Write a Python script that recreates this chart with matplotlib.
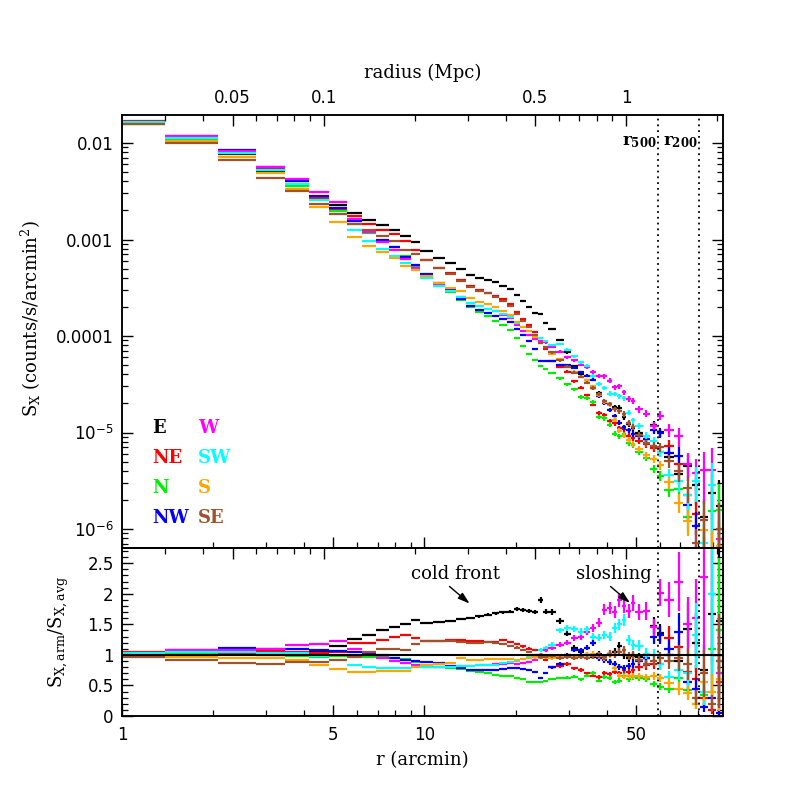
import numpy as np
import matplotlib
matplotlib.use('Agg')
import matplotlib.pyplot as plt
from matplotlib.ticker import NullFormatter

# radial bin edges (arcmin)
EDGES = [0.693, 1.386, 2.079, 2.772, 3.465, 4.158, 4.851, 5.544, 6.237, 6.930,
         7.623, 8.316, 9.009, 9.702,
         10.7, 11.7, 12.7, 13.7, 14.7, 15.7, 16.7, 17.7, 18.7, 19.7, 20.7, 21.7,
         22.7, 23.7, 24.7, 25.7,
         27.3, 28.9, 30.5, 32.1, 33.7, 35.3, 36.9, 38.5, 40.1, 41.7, 43.3, 44.9,
         46.5, 48.1, 49.7,
         52.7, 55.7, 58.7, 61.7,
         66.7, 71.7, 76.7, 81.7, 86.7, 91.7, 96.7]

# log10 of the azimuthally averaged surface brightness
LOG_SAVG = [-1.79, -1.96, -2.12, -2.29, -2.44, -2.58, -2.70, -2.83, -2.92, -3.00, -3.06, -3.14, -3.22,
            -3.30, -3.38, -3.44, -3.51, -3.57, -3.61, -3.64, -3.67, -3.71, -3.75, -3.82, -3.88,
            -3.93, -3.99, -4.05, -4.10,
            -4.16, -4.23, -4.30, -4.36, -4.41, -4.46, -4.53, -4.60, -4.66, -4.71, -4.76, -4.80,
            -4.84, -4.89, -4.94,
            -4.99, -5.04, -5.09, -5.13,
            -5.25, -5.38, -5.50, -5.62, -5.75, -5.85, -5.95]

# fractional errors per bin
ERR_FRAC = [0.002, 0.002, 0.002, 0.003, 0.003, 0.003, 0.003, 0.004, 0.004, 0.004, 0.005, 0.005, 0.005,
            0.006, 0.007, 0.008, 0.009, 0.010, 0.011, 0.012, 0.013, 0.014, 0.015, 0.016, 0.018,
            0.020, 0.022, 0.024, 0.026,
            0.030, 0.032, 0.034, 0.036, 0.038, 0.040, 0.043, 0.046, 0.050, 0.053, 0.056, 0.060,
            0.063, 0.066, 0.070,
            0.075, 0.085, 0.095, 0.11,
            0.15, 0.22, 0.30, 0.40, 0.55, 0.70, 0.85]

# S_X,arm / S_X,avg for each arm
RATIO_E = [1.02, 1.00, 1.01, 1.00, 1.00, 1.04, 1.14, 1.26, 1.33, 1.41, 1.45, 1.51, 1.57,
           1.53, 1.54, 1.56, 1.59, 1.61, 1.63, 1.66, 1.68, 1.70, 1.71, 1.75, 1.74, 1.72, 1.70, 1.90, 1.71,
           1.70, 1.55, 1.35, 1.12, 1.05, 1.00, 0.97, 1.02, 0.95, 1.02, 1.05, 1.14, 1.00, 0.95, 0.98,
           0.96, 0.95, 1.48, 1.36,
           1.00, 0.90, 1.43, 1.20, 0.75, 1.67, 1.55]
RATIO_NE = [1.05, 1.02, 1.03, 1.06, 1.04, 1.03, 1.05, 1.19, 1.20, 1.25, 1.30, 1.33, 1.28,
            1.23, 1.23, 1.24, 1.24, 1.22, 1.22, 1.21, 1.21, 1.25, 1.21, 1.18, 1.14, 1.10, 1.08, 1.00, 0.92,
            0.80, 0.82, 0.85, 0.78, 0.75, 0.70, 0.66, 0.64, 0.70, 0.68, 0.72, 0.70, 0.75, 0.72, 0.76,
            0.80, 0.83, 0.85, 0.85,
            1.28, 1.13, 0.72, 0.60, 0.30, 0.10, 0.55]
RATIO_N = [0.98, 1.01, 1.04, 1.02, 0.99, 0.97, 0.98, 0.98, 0.97, 0.96, 0.95, 0.94, 0.88,
           0.81, 0.80, 0.78, 0.77, 0.74, 0.72, 0.70, 0.67, 0.66, 0.65, 0.63, 0.60, 0.56, 0.55, 0.55, 0.57,
           0.60, 0.62, 0.63, 0.64, 0.60, 0.66, 0.70, 0.58, 0.64, 0.62, 0.56, 0.58, 0.66, 0.60, 0.64,
           0.62, 0.60, 0.52, 0.48,
           0.45, 0.62, 0.42, 0.20, 0.35, 1.10, 1.40]
RATIO_NW = [1.02, 1.08, 1.11, 1.10, 1.10, 1.08, 1.06, 1.05, 1.02, 1.00, 0.95, 0.92, 0.90,
            0.88, 0.86, 0.82, 0.78, 0.76, 0.75, 0.75, 0.76, 0.77, 0.78, 0.78, 0.77, 0.75, 0.72, 0.62, 0.70,
            0.80, 0.85, 1.00, 1.08, 1.08, 1.12, 1.20, 0.95, 0.92, 0.88, 0.85, 0.80, 0.78, 0.82, 0.85,
            0.90, 0.95, 1.30, 1.33,
            1.10, 1.38, 0.56, 0.45, 0.15, 0.30, 0.05]
RATIO_W = [1.02, 1.08, 1.08, 1.10, 1.16, 1.18, 1.22, 1.10, 1.00, 0.95, 0.90, 0.87, 0.84,
           0.82, 0.81, 0.81, 0.82, 0.82, 0.83, 0.84, 0.85, 0.85, 0.86, 0.85, 0.86, 0.88, 0.92, 1.00, 1.08,
           1.12, 1.17, 1.20, 1.28, 1.30, 1.38, 1.44, 1.53, 1.74, 1.77, 1.70, 1.90, 1.80, 1.72, 1.85,
           1.70, 1.72, 1.45, 2.02,
           1.90, 2.20, 1.50, 1.60, 2.28, 2.90, 0.70]
RATIO_SW = [1.03, 1.04, 1.04, 1.03, 1.03, 0.98, 0.92, 0.84, 0.81, 0.79, 0.78, 0.79, 0.80,
            0.80, 0.80, 0.81, 0.82, 0.82, 0.83, 0.84, 0.84, 0.86, 0.88, 0.90, 0.93, 0.96, 1.00, 1.08, 1.12,
            1.17, 1.40, 1.44, 1.42, 1.38, 1.42, 1.30, 1.28, 1.32, 1.30, 1.44, 1.50, 1.57, 1.25, 1.16,
            1.15, 1.02, 1.00, 0.85,
            0.64, 0.75, 0.71, 1.32, 0.40, 2.00, 0.90]
RATIO_S = [0.98, 0.96, 0.95, 0.95, 0.92, 0.83, 0.77, 0.72, 0.72, 0.74, 0.74, 0.74, 0.80,
           0.84, 0.85, 0.86, 0.95, 0.92, 0.92, 0.93, 0.93, 0.94, 0.93, 0.92, 0.94, 0.95, 0.96, 0.95, 0.96,
           0.95, 0.98, 0.96, 0.98, 0.97, 1.00, 1.02, 0.98, 0.95, 1.00, 0.78, 0.66, 0.64, 0.65, 0.66,
           0.66, 0.64, 0.66, 0.62,
           0.54, 0.45, 0.38, 0.20, 0.55, 0.40, 0.60]
RATIO_SE = [0.97, 0.92, 0.87, 0.85, 0.88, 0.88, 0.92, 0.97, 1.05, 1.10, 1.10, 1.08, 1.18,
            1.23, 1.23, 1.22, 1.21, 1.20, 1.20, 1.21, 1.19, 1.18, 1.14, 1.12, 1.08, 1.05, 1.00, 0.96, 0.97,
            0.98, 0.95, 0.96, 0.95, 0.97, 0.95, 0.98, 1.00, 0.97, 1.02, 1.00, 1.05, 1.08, 0.98, 1.00,
            0.92, 0.85, 0.90, 0.95,
            0.90, 0.95, 0.85, 0.30, 0.70, 0.20, 0.90]

ARMS = ['E', 'NE', 'N', 'NW', 'W', 'SW', 'S', 'SE']
RATIOS = [RATIO_E, RATIO_NE, RATIO_N, RATIO_NW, RATIO_W, RATIO_SW, RATIO_S, RATIO_SE]
COLORS = ['black', '#ff0000', '#00ee00', '#0000ff', '#ff00ff', '#00ffff', '#ffa500', '#a0522d']

ARCMIN_PER_MPC = 46.4
R500 = 59.1
R200 = 80.8
XMIN, XMAX = 1.0, 97.0

MPC_MAJOR = [0.05, 0.1, 0.5, 1]
MPC_MINOR = [0.03, 0.04, 0.06, 0.07, 0.08, 0.09, 0.2, 0.3, 0.4, 0.6, 0.7, 0.8, 0.9, 2]
ARC_MAJOR = [1, 5, 10, 50]
ARC_MINOR = [2, 3, 4, 6, 7, 8, 9, 20, 30, 40, 60, 70, 80, 90]

SERIF = 'DejaVu Serif'
plt.rcParams['mathtext.fontset'] = 'dejavuserif'
plt.rcParams['axes.linewidth'] = 1.1


def style_ticks(ax):
    ax.tick_params(which='major', direction='in', length=8, width=1.0, labelsize=12)
    ax.tick_params(which='minor', direction='in', length=4, width=0.9)


def mpc_axis(ax, labels):
    tw = ax.twiny()
    tw.set_xscale('log')
    tw.set_xlim(XMIN / ARCMIN_PER_MPC, XMAX / ARCMIN_PER_MPC)
    tw.set_xticks(MPC_MAJOR)
    tw.set_xticks(MPC_MINOR, minor=True)
    tw.xaxis.set_minor_formatter(NullFormatter())
    if labels:
        tw.set_xticklabels(['0.05', '0.1', '0.5', '1'])
    else:
        tw.set_xticklabels([])
    style_ticks(tw)
    tw.tick_params(axis='x', pad=6)
    return tw


edges = np.array(EDGES)
r = 0.5 * (edges[1:] + edges[:-1])
xerr = [r - edges[:-1], edges[1:] - r]
savg = 10 ** np.array(LOG_SAVG)
efrac = np.array(ERR_FRAC)

fig = plt.figure(figsize=(7.89, 7.89), dpi=100)
ax1 = fig.add_axes([0.1546, 0.3055, 0.7617, 0.5487])
ax2 = fig.add_axes([0.1546, 0.0925, 0.7617, 0.2130])

for name, rat, col in zip(ARMS, RATIOS, COLORS):
    rat = np.array(rat)
    sx = savg * rat
    ax1.errorbar(r, sx, xerr=xerr, yerr=sx * efrac, fmt='none', ecolor=col,
                 elinewidth=1.6, capsize=0)
    ax2.errorbar(r, rat, xerr=xerr, yerr=rat * efrac, fmt='none', ecolor=col,
                 elinewidth=1.6, capsize=0)

### top panel
ax1.set_xscale('log')
ax1.set_yscale('log')
ax1.set_xlim(XMIN, XMAX)
ax1.set_ylim(6.36e-7, 0.0195)
ax1.set_xticks(ARC_MAJOR)
ax1.set_xticks(ARC_MINOR, minor=True)
ax1.xaxis.set_minor_formatter(NullFormatter())
ax1.set_yticks([1e-6, 1e-5, 1e-4, 1e-3, 1e-2])
ax1.set_yticklabels(['10$^{\\mathregular{-6}}$', '10$^{\\mathregular{-5}}$',
                     '0.0001', '0.001', '0.01'])
ax1.yaxis.set_minor_formatter(NullFormatter())
style_ticks(ax1)
ax1.tick_params(which='both', top=False, right=True, labelbottom=False)
ax1.tick_params(axis='y', pad=6)
ax1.set_ylabel('S$_{\\rm X}$ (counts/s/arcmin$^{2}$)', family=SERIF, fontsize=13)
ax1.yaxis.set_label_coords(-0.132, 0.53)
t1 = mpc_axis(ax1, True)
t1.set_xlabel('radius (Mpc)', family=SERIF, fontsize=13, labelpad=8)

for x in (R500, R200):
    ax1.axvline(x, color='black', ls=(0, (1, 2.2)), lw=1.3)
    ax2.axvline(x, color='black', ls=(0, (1, 2.2)), lw=1.3)
ax1.text(R500 * 0.99, 0.0104, '$\\mathbf{r_{500}}$', ha='right', va='center', fontsize=12)
ax1.text(R200 * 0.99, 0.0104, '$\\mathbf{r_{200}}$', ha='right', va='center', fontsize=12)

# arm labels
leg_pos = [(0.05, 0.277), (0.05, 0.208), (0.05, 0.139), (0.05, 0.069),
           (0.126, 0.277), (0.126, 0.208), (0.126, 0.139), (0.126, 0.069)]
for name, col, (lx, ly) in zip(ARMS, COLORS, leg_pos):
    ax1.text(lx, ly, name, color=col, transform=ax1.transAxes, family=SERIF,
             fontweight='bold', fontsize=13, ha='left', va='center')

### bottom panel
ax2.set_xscale('log')
ax2.set_xlim(XMIN, XMAX)
ax2.set_ylim(0, 2.75)
ax2.axhline(1.0, color='black', lw=1.5, zorder=5)
ax2.set_xticks(ARC_MAJOR)
ax2.set_xticklabels(['1', '5', '10', '50'])
ax2.set_xticks(ARC_MINOR, minor=True)
ax2.xaxis.set_minor_formatter(NullFormatter())
ax2.set_yticks([0, 0.5, 1, 1.5, 2, 2.5])
ax2.set_yticklabels(['0', '0.5', '1', '1.5', '2', '2.5'])
ax2.set_yticks(np.arange(0, 2.75, 0.1), minor=True)
style_ticks(ax2)
ax2.tick_params(which='both', top=False, right=True)
ax2.tick_params(axis='x', pad=7)
ax2.tick_params(axis='y', pad=6)
ax2.set_xlabel('r (arcmin)', family=SERIF, fontsize=13, labelpad=5)
ax2.set_ylabel('S$_{\\rm X,arm}$/S$_{\\rm X,avg}$', family=SERIF, fontsize=13)
ax2.yaxis.set_label_coords(-0.085, 0.5)
mpc_axis(ax2, False)

# annotations: text and arrows drawn separately
ax2.text(12.7, 2.32, 'cold front', ha='center', va='center', family=SERIF, fontsize=13)
ax2.text(42.3, 2.32, 'sloshing', ha='center', va='center', family=SERIF, fontsize=13)
arrow = dict(arrowstyle='-|>,head_length=0.7,head_width=0.22', color='black',
             lw=1.0, shrinkA=0, shrinkB=0)
ax2.annotate('', xy=(14.1, 1.84), xytext=(12.1, 2.12), arrowprops=arrow)
ax2.annotate('', xy=(47.8, 1.85), xytext=(41.2, 2.12), arrowprops=arrow)

fig.savefig('out.png', dpi=100)
